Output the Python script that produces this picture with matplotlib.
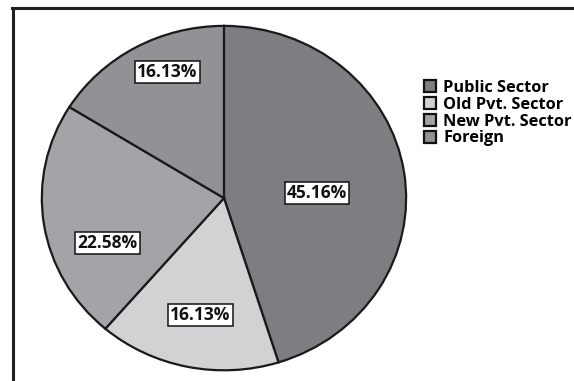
import matplotlib.pyplot as plt
from matplotlib.lines import Line2D

plt.rcParams["font.family"] = ["Open Sans", "DejaVu Sans"]

sectors = ["Public Sector", "Old Pvt. Sector", "New Pvt. Sector", "Foreign"]
shares = [45.16, 16.13, 22.58, 16.13]
colors = ["#7e7e82", "#d2d2d4", "#a4a4a8", "#929296"]

fig = plt.figure(figsize=(5.74, 3.81), dpi=100)
ax = fig.add_axes([0.0697, 0.0236, 0.641, 0.913])

wedges, _, autotexts = ax.pie(
    shares,
    colors=colors,
    startangle=90,
    counterclock=False,
    autopct="%.2f%%",
    pctdistance=0.6,
    wedgeprops=dict(edgecolor="#1a1a1a", linewidth=1.6),
)
ax.set_aspect("auto")
ax.set_xlim(-1.01, 1.01)
ax.set_ylim(-1.01, 1.01)

# label placement (Excel "best fit" look)
label_pos = [(0.51, 0.03), (-0.13, -0.68), (-0.64, -0.26), (-0.31, 0.73)]
for t, pos in zip(autotexts, label_pos):
    t.set_position(pos)
    t.set_fontsize(12.5)
    t.set_fontweight("bold")
    t.set_color("#111111")
    t.set_bbox(dict(facecolor="white", edgecolor="#111111", linewidth=1.1,
                    boxstyle="square,pad=0.12"))

handles = [plt.Rectangle((0, 0), 1, 1, facecolor=c, edgecolor="#111111", linewidth=1.6) for c in colors]
fig.legend(
    handles, sectors,
    loc="upper left", bbox_to_anchor=(0.738, 0.79),
    frameon=False, prop=dict(size=11.8, weight="bold"),
    handlelength=0.75, handleheight=0.75, handletextpad=0.45,
    labelspacing=0.05, borderaxespad=0, borderpad=0,
)

# chart border (cut off on right and bottom)
fig.add_artist(Line2D([13 / 574, 13 / 574], [0, 1 - 8 / 381], color="#231f20", linewidth=2.2))
fig.add_artist(Line2D([12 / 574, 1], [1 - 8 / 381, 1 - 8 / 381], color="#231f20", linewidth=2.2))

fig.savefig("out.png", dpi=100)
